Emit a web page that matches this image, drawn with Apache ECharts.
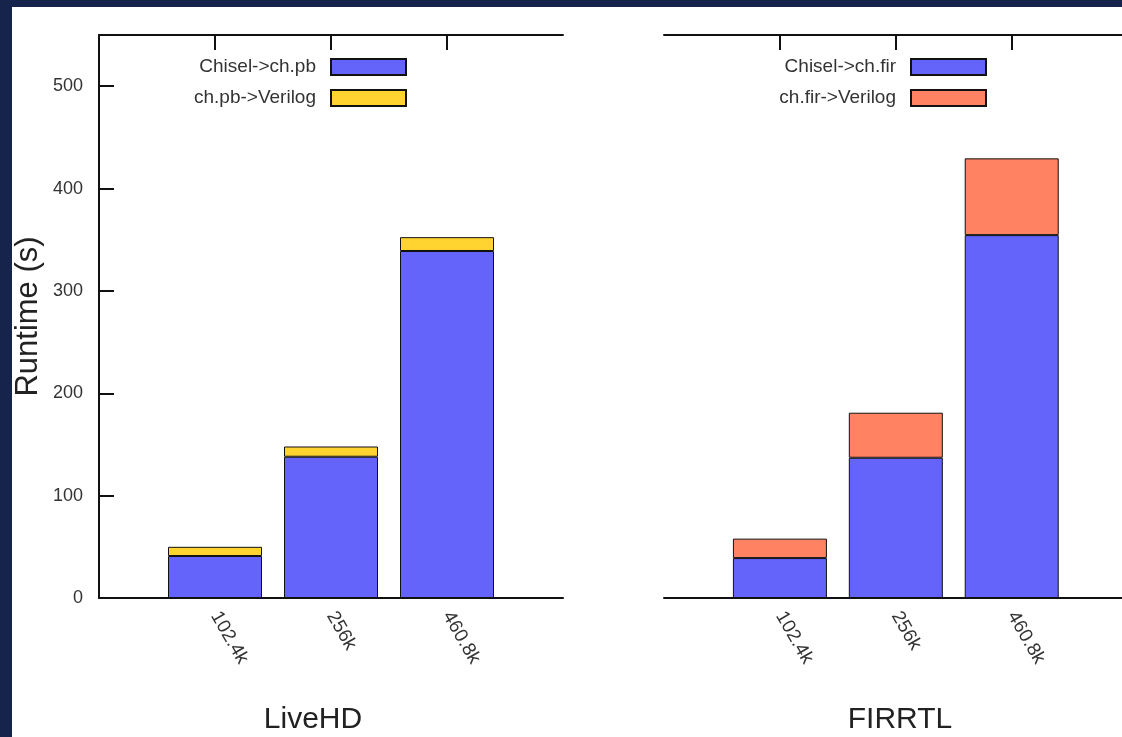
<!DOCTYPE html>
<html>
<head>
<meta charset="utf-8">
<script src="https://cdn.jsdelivr.net/npm/echarts@6/dist/echarts.min.js"></script>
<style>
  html, body { margin: 0; padding: 0; background: #16234a; overflow: hidden; }
  #panel { position: absolute; left: 12px; top: 7px; right: 0; bottom: 0; background: #ffffff; }
  /* a bit wider than the window so the right panel runs off the edge like the slide */
  #chart { position: absolute; left: 0; top: 0; width: 1140px; height: 737px; }
</style>
</head>
<body>
<div id="panel"></div>
<div id="chart"></div>
<script>
const categories = ['102.4k', '256k', '460.8k']
const livehdParse = [41, 138, 339]
const livehdEmit = [9, 10, 13.5]
const firrtlParse = [39, 137, 354.5]
const firrtlEmit = [19, 44, 75]
const yTicks = [0, 100, 200, 300, 400, 500]

const FONT = 'Liberation Sans, Arial, sans-serif'
const BLUE = '#6464fb'
const YELLOW = '#ffd431'
const SALMON = '#ff8262'
const CANVAS_W = 1140

// gnuplot-like xrange [-1:3]: pad with empty slots at both ends
const slots = [''].concat(categories, [' '])
const pad = arr => ['-'].concat(arr, ['-'])
const innerTick = (idx) => idx > 0 && idx < slots.length - 1

const chart = echarts.init(document.getElementById('chart'), null, { renderer: 'canvas' })

const axisLine = { show: true, lineStyle: { color: '#111', width: 2 } }

const bottomAxis = (gridIndex) => ({
  type: 'category',
  gridIndex,
  position: 'bottom',
  data: slots,
  boundaryGap: false,
  axisLine,
  axisTick: { show: false },
  axisLabel: {
    interval: 0,
    rotate: -60,
    margin: 15,
    fontSize: 19,
    fontFamily: FONT,
    color: '#333'
  }
})

const topAxis = (gridIndex) => ({
  type: 'category',
  gridIndex,
  position: 'top',
  data: slots,
  boundaryGap: false,
  axisLine,
  axisTick: { show: true, inside: true, length: 15, interval: innerTick, lineStyle: { color: '#111', width: 2 } },
  axisLabel: { show: false }
})

const barItem = (color) => ({ color, borderColor: '#111', borderWidth: 1 })

const legendBase = {
  orient: 'vertical',
  align: 'right',
  top: 57,
  padding: 0,
  itemWidth: 75,
  itemHeight: 16,
  itemGap: 11,
  icon: 'rect',
  textStyle: { fontSize: 19, lineHeight: 20, fontFamily: FONT, color: '#333', padding: [0, 10, 0, 0] }
}

const option = {
  animation: false,
  backgroundColor: 'transparent',
  title: [
    { text: 'LiveHD', left: 308, top: 700, textAlign: 'center',
      textStyle: { fontSize: 30, fontWeight: 'normal', fontFamily: FONT, color: '#222' } },
    { text: 'FIRRTL', left: 895, top: 700, textAlign: 'center',
      textStyle: { fontSize: 30, fontWeight: 'normal', fontFamily: FONT, color: '#222' } }
  ],
  legend: [
    Object.assign({}, legendBase, { right: CANVAS_W - 407, data: ['Chisel->ch.pb', 'ch.pb->Verilog'] }),
    Object.assign({}, legendBase, { right: CANVAS_W - 987, data: ['Chisel->ch.fir', 'ch.fir->Verilog'] })
  ],
  grid: [
    { left: 99, top: 35, width: 464, height: 563 },
    { left: 664, top: 35, width: 464, height: 563 }
  ],
  xAxis: [bottomAxis(0), topAxis(0), bottomAxis(1), topAxis(1)],
  yAxis: [
    {
      type: 'value',
      gridIndex: 0,
      min: 0,
      max: 550,
      interval: 100,
      name: 'Runtime (s)',
      nameLocation: 'middle',
      nameRotate: 90,
      nameGap: 55,
      nameTextStyle: { fontSize: 31, fontFamily: FONT, color: '#222' },
      axisLine,
      axisTick: { show: true, inside: true, length: 15, lineStyle: { color: '#111', width: 2 } },
      splitLine: { show: false },
      axisLabel: {
        margin: 16,
        fontSize: 18,
        fontFamily: FONT,
        color: '#333',
        formatter: v => (yTicks.indexOf(v) >= 0 ? String(v) : '')
      }
    },
    { type: 'value', gridIndex: 1, min: 0, max: 550, interval: 100, show: false, splitLine: { show: false } }
  ],
  series: [
    { name: 'Chisel->ch.pb', type: 'bar', xAxisIndex: 0, yAxisIndex: 0, stack: 'livehd',
      barWidth: 94, data: pad(livehdParse), itemStyle: barItem(BLUE) },
    { name: 'ch.pb->Verilog', type: 'bar', xAxisIndex: 0, yAxisIndex: 0, stack: 'livehd',
      barWidth: 94, data: pad(livehdEmit), itemStyle: barItem(YELLOW) },
    { name: 'Chisel->ch.fir', type: 'bar', xAxisIndex: 2, yAxisIndex: 1, stack: 'firrtl',
      barWidth: 94, data: pad(firrtlParse), itemStyle: barItem(BLUE) },
    { name: 'ch.fir->Verilog', type: 'bar', xAxisIndex: 2, yAxisIndex: 1, stack: 'firrtl',
      barWidth: 94, data: pad(firrtlEmit), itemStyle: barItem(SALMON) }
  ]
}

chart.setOption(option)
</script>
</body>
</html>
